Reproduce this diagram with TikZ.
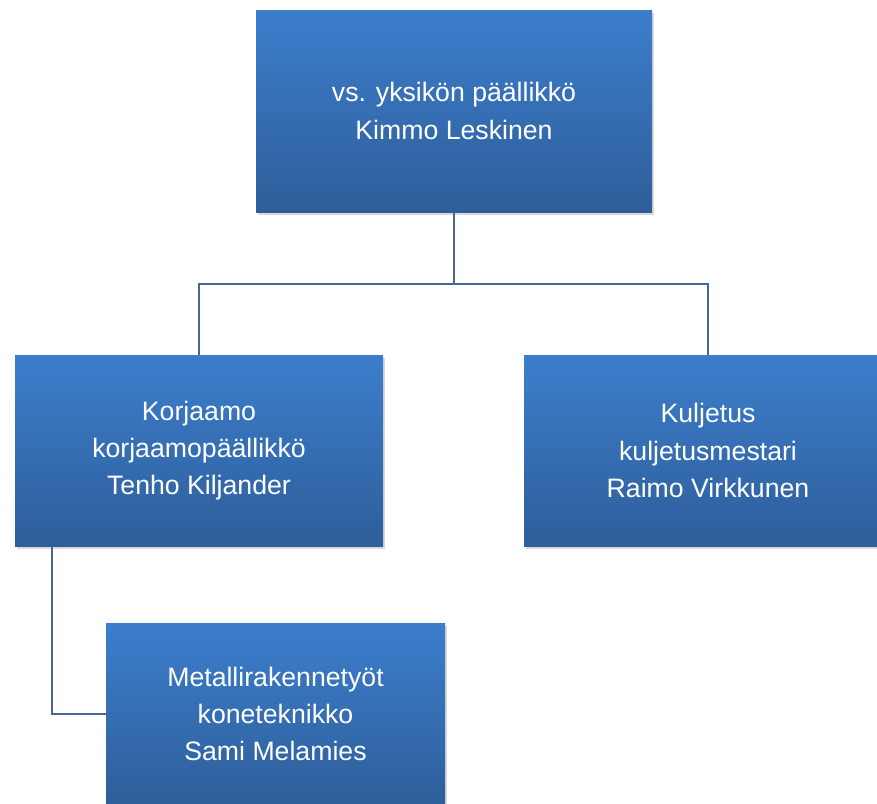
\documentclass[tikz,border=0pt]{standalone}
\usepackage{fontspec}
\setmainfont{Liberation Sans}
\usetikzlibrary{shadows}
\definecolor{unittop}{RGB}{60,126,204}
\definecolor{unitbot}{RGB}{46,94,154}
\definecolor{linkblue}{RGB}{70,104,152}
\tikzset{
    unit/.style={rectangle, top color=unittop, bottom color=unitbot,
        text=white, align=center, inner sep=0pt,
        font=\fontsize{20pt}{28pt}\selectfont,
        drop shadow={shadow xshift=1.5pt, shadow yshift=-2.5pt, opacity=.3}},
    link/.style={draw=linkblue, line width=1.2pt}
}

\begin{document}
\begin{tikzpicture}[x=0.75pt,y=-0.75pt]
        \clip (0,0) rectangle (877,803);

        \node[unit, minimum width=297pt, minimum height=151.5pt] (boss) at (454,111)
            {vs. yksikön päällikkö\\Kimmo Leskinen};
        \node[unit, minimum width=276pt, minimum height=143.25pt] (korj) at (199,450.5)
            {Korjaamo\\korjaamopäällikkö\\Tenho Kiljander};
        \node[unit, minimum width=276pt, minimum height=143.25pt] (kulj) at (708,450.5)
            {Kuljetus\\kuljetusmestari\\Raimo Virkkunen};
        \node[unit, minimum width=254.25pt, minimum height=136.5pt] (metal) at (275.5,714)
            {Metallirakennetyöt\\koneteknikko\\Sami Melamies};

        \draw[link] (boss.south) -- ++(0,72) -| (korj.north);
        \draw[link] (boss.south) -- ++(0,72) -| (kulj.north);

        \coordinate (tap) at (52,546);
        \draw[link] (tap) |- (metal.west);

    \end{tikzpicture}
\end{document}
